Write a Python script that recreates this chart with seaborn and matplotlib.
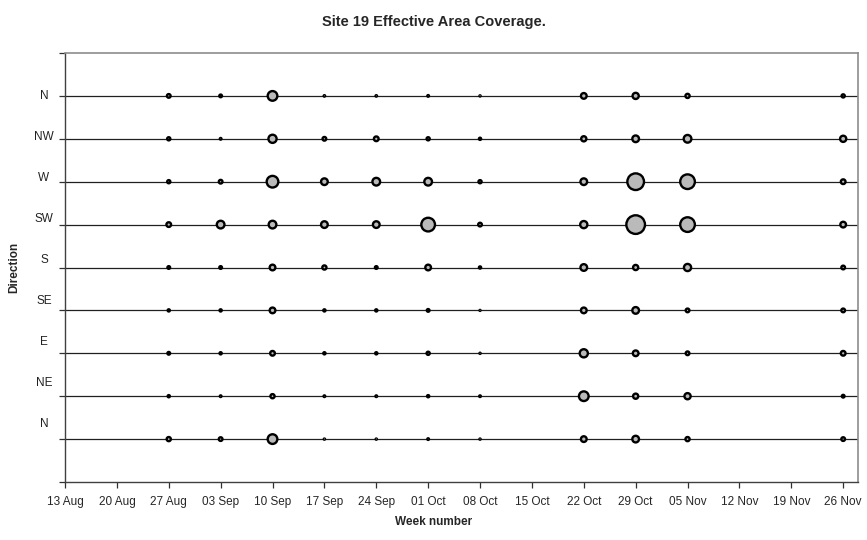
import numpy as np
import pandas as pd
import matplotlib
matplotlib.use("Agg")
import matplotlib.pyplot as plt
import matplotlib.dates as mdates
import seaborn as sns

# ---- data ----
directions = ["N", "NW", "W", "SW", "S", "SE", "E", "NE", "N"]
dates = ["2007-08-27", "2007-09-03", "2007-09-10", "2007-09-17", "2007-09-24",
         "2007-10-01", "2007-10-08", "2007-10-22", "2007-10-29", "2007-11-05",
         "2007-11-26"]
tick_start = "2007-08-13"
tick_end = "2007-11-26"

# relative effective area coverage (bubble area), one list per direction row
n_top = [3.9, 2.1, 26.9, 0.6, 0.6, 0.8, 0.4, 9.3, 11.0, 5.0, 2.9]
nw    = [2.9, 0.8, 19.2, 3.9, 6.3, 2.9, 1.4, 7.7, 12.8, 17.0, 11.0]
w     = [2.9, 3.9, 39.1, 12.8, 17.0, 17.0, 2.9, 12.8, 79.8, 61.8, 6.3]
sw    = [6.3, 17.0, 17.0, 12.8, 12.8, 53.7, 3.9, 14.8, 100.0, 61.8, 9.3]
s     = [2.1, 2.1, 9.3, 5.0, 2.1, 9.3, 1.4, 12.8, 7.7, 14.8, 3.9]
se    = [1.4, 1.4, 9.3, 1.4, 1.4, 2.1, 0.3, 9.3, 12.8, 3.9, 3.9]
e     = [2.1, 1.4, 6.3, 1.4, 1.4, 2.9, 0.4, 19.2, 9.3, 3.9, 6.3]
ne    = [1.4, 0.8, 5.0, 0.8, 0.8, 1.4, 0.8, 26.9, 7.7, 11.0, 2.1]
n_bot = [5.0, 3.9, 26.9, 0.4, 0.4, 0.8, 0.4, 9.3, 12.8, 5.0, 3.9]
rows = [n_top, nw, w, sw, s, se, e, ne, n_bot]

# ---- build table ----
recs = []
for i, vals in enumerate(rows):
    ypos = len(rows) - i
    for d, v in zip(dates, vals):
        recs.append({"date": pd.Timestamp(d), "row": ypos, "value": v})
df = pd.DataFrame(recs)

sns.set_style("white")
plt.rcParams["font.family"] = ["Liberation Sans", "DejaVu Sans"]

fig = plt.figure(figsize=(8.67, 5.40), dpi=100)
ax = fig.add_axes([65 / 867, 1 - 482 / 540, (858 - 65) / 867, (482 - 53) / 540])

# horizontal row lines
for k in range(1, 10):
    ax.axhline(k, color="#202020", lw=0.9, zorder=1)

sns.scatterplot(data=df, x="date", y="row", size="value", sizes=(0, 180),
                size_norm=(0, 100), legend=False, color="#bababa",
                edgecolor="black", linewidth=1.7, ax=ax, zorder=3)

ax.set_ylim(0, 10)
ax.set_xlim(pd.Timestamp(tick_start), pd.Timestamp(tick_end) + pd.Timedelta(days=2))
ticks = pd.date_range(tick_start, tick_end, freq="7D")
ax.set_xticks(ticks)
ax.xaxis.set_major_formatter(mdates.DateFormatter("%d %b"))
ax.set_yticks(range(0, 11))
ax.set_yticklabels([])
ax.tick_params(axis="both", direction="out", length=4, width=0.9, color="#303030",
               labelsize=8.5, bottom=True, left=True, pad=6)

# direction labels (evenly spaced as in the original)
for i, lab in enumerate(directions):
    ypos = 9 - i * 0.957
    ax.text(-0.0265, ypos, lab, transform=ax.get_yaxis_transform(), ha="center",
            va="center", fontsize=8.5, color="#222222")

for sp in ["left", "bottom"]:
    ax.spines[sp].set_color("#404040")
    ax.spines[sp].set_linewidth(1.0)
for sp in ["top", "right"]:
    ax.spines[sp].set_color("#8c8c8c")
    ax.spines[sp].set_linewidth(1.2)

ax.set_xlabel("")
ax.set_ylabel("")
fig.text(0.5, 1 - 22 / 540, "Site 19 Effective Area Coverage.", ha="center", va="center",
         fontsize=10.5, fontweight="bold")
fig.text(0.5, 1 - 522 / 540, "Week number", ha="center", va="center",
         fontsize=8.5, fontweight="bold")
fig.text(14 / 867, 1 - 267 / 540, "Direction", ha="center", va="center",
         rotation=90, fontsize=8.5, fontweight="bold")

fig.savefig("out.png", dpi=100, facecolor="white")
